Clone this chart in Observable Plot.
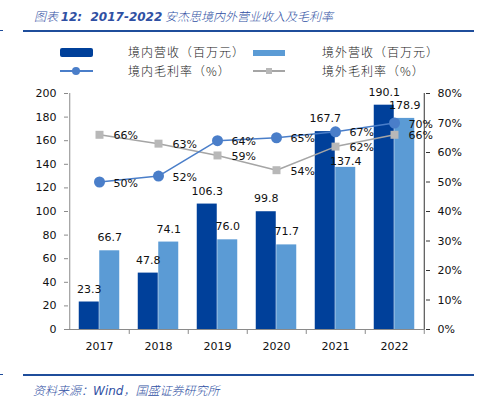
<!DOCTYPE html>
<html><head><meta charset="utf-8">
<script src="https://cdn.jsdelivr.net/npm/d3@7"></script>
<script src="https://cdn.jsdelivr.net/npm/@observablehq/plot@0.6"></script>
<style>
body{margin:0;background:#fff;}
#wrap{position:relative;width:477px;height:399px;overflow:hidden;font-family:"Noto Sans CJK SC","DejaVu Sans",sans-serif;}
.abs{position:absolute;}
.title{left:34px;top:7px;font-size:12px;color:#2f50a3;font-style:italic;white-space:nowrap;font-weight:300;}
.title b{font-family:"DejaVu Sans";font-weight:bold;font-size:12px;}
.rule{height:2px;background:#1f4d9b;}
.cap{left:33px;top:381px;font-size:12px;color:#2f50a3;font-style:italic;white-space:nowrap;font-weight:300;}
.cap span{font-family:"DejaVu Sans";font-size:12px;font-weight:normal;}
.leg{font-size:12px;color:#222;white-space:nowrap;font-weight:300;letter-spacing:1px;}
#chart{left:0;top:83px;}
</style></head>
<body><div id="wrap">
<div class="abs title">图表 <b>12:&nbsp; 2017-2022</b> 安杰思境内外营业收入及毛利率</div>
<div class="abs rule" style="left:23px;top:30px;width:451px"></div>
<div class="abs rule" style="left:0;top:30px;width:3px;height:1px"></div>
<div class="abs" style="left:60px;top:48px;width:33px;height:9px;background:#00409a;border-radius:2px"></div>
<div class="abs leg" style="left:128px;top:43px">境内营收（百万元）</div>
<div class="abs" style="left:253px;top:50px;width:32px;height:6px;background:#5b9bd5"></div>
<div class="abs leg" style="left:322px;top:43px">境外营收（百万元）</div>
<div class="abs" style="left:60px;top:70px;width:33px;height:2px;background:#4a7ec9"></div>
<div class="abs" style="left:72px;top:67px;width:8px;height:8px;border-radius:50%;background:#4a7ec9"></div>
<div class="abs leg" style="left:128px;top:62px">境内毛利率（%）</div>
<div class="abs" style="left:253px;top:70px;width:32px;height:2px;background:#a5a5a5"></div>
<div class="abs" style="left:266px;top:68px;width:6px;height:6px;background:#b8b8b8"></div>
<div class="abs leg" style="left:322px;top:62px">境外毛利率（%）</div>
<div class="abs" id="chart"></div>
<div class="abs rule" style="left:23px;top:374px;width:451px"></div>
<div class="abs rule" style="left:0;top:374px;width:3px;height:1px"></div>
<div class="abs cap">资料来源：<span>Wind</span>，国盛证券研究所</div>
</div>
<script>
const years = ["2017","2018","2019","2020","2021","2022"];
const domesticRevenue = [23.3, 47.8, 106.3, 99.8, 167.7, 190.1];
const foreignRevenue = [66.7, 74.1, 76.0, 71.7, 137.4, 178.9];
const domesticMargin = [50, 52, 64, 65, 67, 70];
const foreignMargin = [66, 63, 59, 54, 62, 66];
const leftTicks = [0, 20, 40, 60, 80, 100, 120, 140, 160, 180, 200];
const rightTicks = [0, 10, 20, 30, 40, 50, 60, 70, 80];
const k = 200 / 80; // right axis (%) mapped onto left scale

const rows = years.map((y, i) => ({
  year: y, dom: domesticRevenue[i], fgn: foreignRevenue[i],
  dm: domesticMargin[i] * k, fm: foreignMargin[i] * k,
  dmL: domesticMargin[i] + "%", fmL: foreignMargin[i] + "%"
}));
const half = 59.5 / 2;
const bw = 10.25;
const lowLabel = d => d.year === "2021";

const chart = Plot.plot({
  width: 477, height: 276,
  marginTop: 10, marginBottom: 30, marginLeft: 68, marginRight: 52,
  x: {type: "band", domain: years, paddingInner: 0.655, paddingOuter: 0.3275},
  y: {domain: [0, 200]},
  style: {fontFamily: "DejaVu Sans", fontSize: "11px", color: "#111", background: "transparent"},
  marks: [
    Plot.barY(rows, {x: "year", y: "dom", fill: "#00409a", dx: -bw}),
    Plot.barY(rows, {x: "year", y: "fgn", fill: "#5b9bd5", dx: bw}),
    Plot.ruleY([0], {stroke: "#8a8a8a", strokeWidth: 1}),
    Plot.ruleX([years[0]], {y1: 0, y2: 200, dx: -half, stroke: "#8a8a8a"}),
    Plot.ruleX([years[5]], {y1: 0, y2: 200, dx: half, stroke: "#333"}),
    Plot.ruleX(years, {y1: 0, y2: -4.2, dx: half, stroke: "#8a8a8a"}),
    Plot.axisY({ticks: leftTicks, tickSize: 4, tickPadding: 8, stroke: "#8a8a8a", label: null}),
    Plot.axisY({anchor: "right", ticks: rightTicks.map(d => d * k), tickFormat: d => Math.round(d / k) + "%", tickSize: 4, tickPadding: 8, stroke: "#333", label: null}),
    Plot.axisX({tickSize: 0, tickPadding: 13, label: null}),
    Plot.text(rows, {x: "year", y: "dom", text: d => d.dom.toFixed(1), dx: -bw, dy: -13, fill: "#111"}),
    Plot.text(rows, {filter: d => !lowLabel(d), x: "year", y: "fgn", text: d => d.fgn.toFixed(1), dx: bw, dy: -13, fill: "#111"}),
    Plot.text(rows, {filter: lowLabel, x: "year", y: "fgn", text: d => d.fgn.toFixed(1), dx: bw, dy: -6, fill: "#111"}),
    Plot.line(rows, {x: "year", y: "fm", stroke: "#a5a5a5", strokeWidth: 1.5}),
    Plot.dot(rows, {x: "year", y: "fm", symbol: "square", r: 4.5, fill: "#b8b8b8"}),
    Plot.line(rows, {x: "year", y: "dm", stroke: "#4a7ec9", strokeWidth: 1.5}),
    Plot.dot(rows, {x: "year", y: "dm", r: 5.5, fill: "#4a7ec9"}),
    Plot.text(rows, {x: "year", y: "dm", text: "dmL", dx: 14, dy: 1, textAnchor: "start", fill: "#111"}),
    Plot.text(rows, {x: "year", y: "fm", text: "fmL", dx: 14, dy: 1, textAnchor: "start", fill: "#111"})
  ]
});
document.getElementById("chart").appendChild(chart);
</script>
</body></html>
